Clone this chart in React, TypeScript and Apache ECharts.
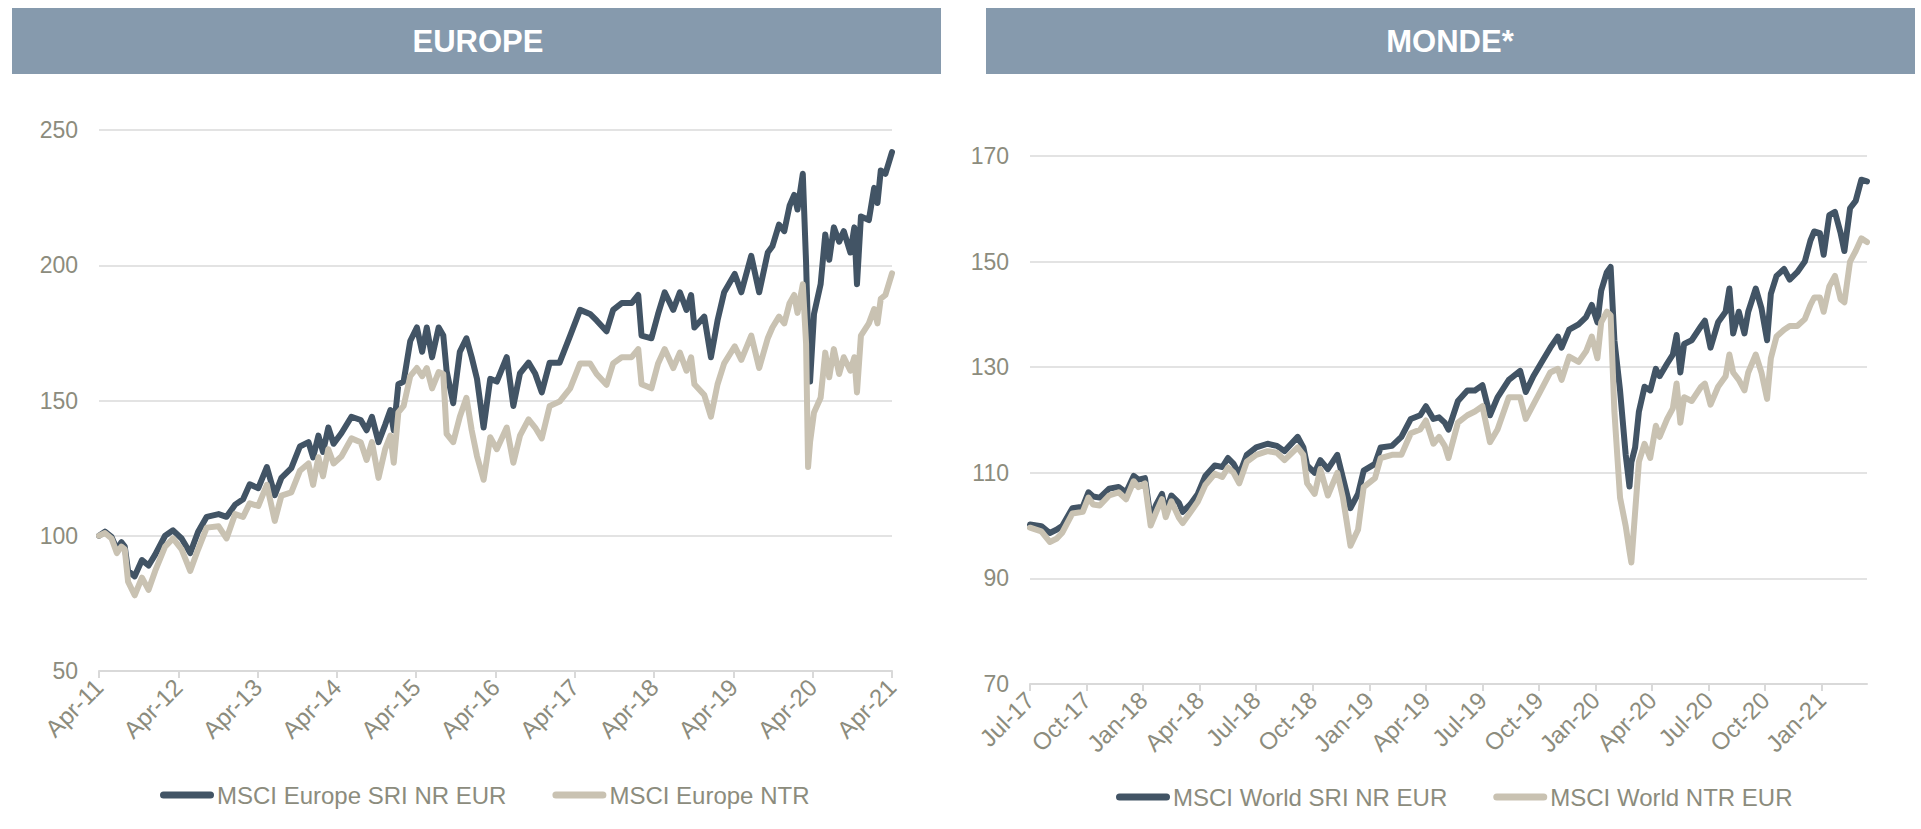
import React, { useEffect, useRef } from "react";
import * as echarts from "echarts";

// ---------- DATA ----------
// Europe: x = months since Apr-2011
const euroMonths = [0, 0.9, 1.9, 2.7, 3.4, 3.9, 4.4, 5.4, 6.5, 7.5, 8.5, 10.0, 11.2, 12.5, 13.8, 15.0, 16.3, 18.1, 19.3, 20.6, 21.8, 22.8, 24.1, 25.4, 26.6, 27.6, 29.1, 30.4, 31.7, 32.4, 33.2, 33.9, 34.7, 35.5, 36.7, 38.2, 39.6, 40.5, 41.3, 42.3, 43.3, 44.1, 44.6, 45.3, 46.1, 47.1, 48.1, 48.9, 49.6, 50.4, 51.4, 52.1, 52.6, 53.6, 54.6, 55.6, 56.4, 57.2, 58.2, 59.2, 60.2, 61.7, 62.7, 63.7, 65.0, 66.0, 67.0, 68.2, 69.7, 71.3, 72.8, 74.3, 75.3, 76.8, 77.8, 79.1, 80.6, 81.6, 82.1, 83.6, 84.6, 85.6, 86.9, 87.9, 88.9, 89.6, 90.1, 91.6, 92.6, 93.6, 94.6, 96.2, 97.2, 98.7, 99.9, 101.2, 101.9, 102.9, 103.7, 104.5, 105.2, 105.7, 106.5, 107.0, 107.3, 107.6, 108.2, 109.2, 109.9, 110.5, 111.2, 112.0, 112.7, 113.7, 114.3, 114.7, 115.3, 116.5, 117.3, 117.8, 118.3, 119.0, 120];
const euroSri = [100, 101.5, 99.6, 95, 97.6, 96, 87, 85, 91, 89, 93, 100, 102, 99, 93.6, 101.5, 107, 108, 107, 111.5, 113.5, 119, 117.6, 125.4, 115, 121.4, 125, 133, 134.6, 129, 137, 131, 140, 134, 138, 144, 142.8, 139, 144, 134.6, 141, 146.5, 139, 156, 157, 172, 177, 168, 177, 166, 177, 174, 161, 149, 168, 173, 166, 158, 140, 158, 157, 166, 148, 160, 164, 160, 153, 164, 164, 174, 183.5, 182, 179.6, 175.6, 183.5, 186, 186, 189, 174, 173, 182, 190, 183.5, 190, 183.5, 189, 177, 181, 166, 179.6, 190, 196.8, 190, 203.5, 190, 204.7, 207, 215, 212.6, 222, 226, 220.6, 233.8, 200.8, 174, 157, 182, 193, 211.4, 202, 214, 208.7, 212.6, 204.7, 214, 193, 218, 216.7, 228.6, 223, 235, 233.8, 241.8];
const euroNtr = [100, 101, 99, 93.6, 96, 95, 83, 78, 84.5, 80, 87, 96, 99, 95, 87, 95, 103, 103.5, 99, 108, 107, 112, 111, 118.8, 105.5, 114.8, 116, 124, 126.7, 118.8, 129, 122, 132, 126.7, 129.4, 136, 134.6, 128, 134.6, 121.4, 132, 137, 127, 145.6, 148, 159, 162, 159, 162, 154.5, 160.5, 159.8, 137.7, 134.6, 144, 151, 139, 129.4, 120.7, 136.4, 132, 140, 127, 137, 143, 140, 136, 148, 149.6, 154.5, 163.7, 163.7, 159.8, 155.8, 163.7, 166, 166, 169, 156, 154.5, 163.7, 169, 162, 167.7, 161, 166, 156, 152, 144, 156, 163.7, 170, 165, 174, 162, 173, 177, 181, 178.5, 186, 189, 182.4, 193, 171, 125.4, 134.6, 145.6, 151, 167.7, 158.6, 169, 159.8, 166, 161, 166, 153, 174, 178.5, 183.8, 178.5, 187.6, 189, 197];
const euroTickLabels = ["Apr-11", "Apr-12", "Apr-13", "Apr-14", "Apr-15", "Apr-16", "Apr-17", "Apr-18", "Apr-19", "Apr-20", "Apr-21"];

// World: x = months since Jul-2017
const worldMonths = [0, 0.6, 1.05, 1.4, 1.7, 2.25, 2.8, 3.1, 3.35, 3.7, 4.2, 4.7, 5.1, 5.5, 5.75, 6.1, 6.4, 6.7, 7.0, 7.2, 7.5, 7.9, 8.1, 8.5, 8.9, 9.3, 9.8, 10.2, 10.5, 10.8, 11.1, 11.5, 12.0, 12.6, 13.1, 13.5, 14.2, 14.5, 14.7, 15.1, 15.4, 15.8, 16.3, 16.6, 17.0, 17.4, 17.7, 18.3, 18.6, 19.2, 19.7, 20.2, 20.7, 21.0, 21.4, 21.7, 22.0, 22.2, 22.7, 23.2, 23.6, 24.0, 24.4, 24.8, 25.4, 26.0, 26.3, 26.7, 27.1, 27.6, 28.0, 28.2, 28.6, 29.1, 29.5, 29.8, 30.1, 30.3, 30.6, 30.8, 31.0, 31.3, 31.6, 31.8, 31.9, 32.1, 32.3, 32.6, 32.9, 33.2, 33.4, 33.8, 34.1, 34.3, 34.5, 34.7, 35.1, 35.6, 35.8, 36.1, 36.5, 36.9, 37.1, 37.3, 37.6, 37.9, 38.1, 38.5, 38.8, 39.1, 39.3, 39.6, 40.0, 40.3, 40.7, 41.1, 41.4, 41.6, 41.9, 42.1, 42.4, 42.7, 43.0, 43.2, 43.5, 43.8, 44.1, 44.4];
const worldSri = [100.2, 99.9, 98.6, 99.2, 99.9, 103.3, 103.6, 106.3, 105.5, 105.3, 107, 107.3, 106.3, 109.4, 108.7, 109, 101.3, 104, 106, 102.6, 105.7, 104.3, 102.6, 104, 106, 109.4, 111.4, 111.1, 112.8, 111.7, 109.7, 113.4, 114.8, 115.5, 115.1, 114.1, 116.8, 114.8, 111.4, 110, 112.4, 110.7, 113.4, 109, 103.3, 106, 110.4, 111.7, 114.8, 115.1, 116.8, 120.2, 120.9, 122.6, 120.2, 120.5, 119.5, 118.2, 123.6, 125.6, 125.6, 126.6, 120.9, 124.3, 127.6, 129.3, 125.3, 128.3, 130.7, 133.7, 135.8, 133.7, 137.1, 138.1, 139.5, 141.8, 138.5, 144.5, 148, 149, 135.1, 125.6, 113.4, 107.4, 112, 114.8, 121.6, 126.3, 125.6, 129.7, 128.3, 130.7, 132.4, 136.1, 129, 134.4, 135.1, 137.8, 138.8, 133.7, 138.5, 140.5, 144.9, 136.4, 140.5, 136.4, 140.5, 144.9, 141.2, 135.1, 143.9, 147.3, 148.6, 146.6, 148, 150, 154, 155.7, 155.4, 151.3, 158.8, 159.4, 155.4, 152, 160.1, 161.5, 165.5, 165.2];
const worldNtr = [99.6, 98.9, 96.9, 97.5, 98.6, 102.3, 102.6, 105.3, 104, 103.8, 105.7, 106.3, 105, 108.4, 107.3, 108, 100, 102.6, 105, 101.6, 104.6, 101.5, 100.5, 102.5, 104.5, 107.7, 109.8, 109.2, 111, 110, 108, 112.1, 113.4, 114.1, 113.8, 112.4, 114.8, 113.4, 108, 106, 110.7, 105.7, 110, 105.3, 96.2, 99.2, 107.3, 109, 112.8, 113.4, 113.4, 117.5, 118.2, 119.9, 115.5, 116.8, 115.1, 112.8, 119.5, 120.9, 121.6, 122.6, 115.8, 118.2, 124.3, 124.3, 120.2, 122.9, 125.6, 129, 129.7, 127.6, 132, 131, 133, 135.8, 131.7, 138.5, 140.5, 139.8, 121.6, 105.3, 99.9, 95.2, 93, 102.6, 112.1, 115.5, 112.8, 118.9, 116.8, 120.2, 122.2, 126.9, 119.5, 124.3, 123.6, 126.3, 126.9, 122.9, 126.3, 128.3, 132.4, 129, 127.6, 125.6, 129, 132.4, 129, 124, 131.7, 135.8, 137.1, 137.8, 137.8, 139.1, 141.8, 143.2, 143.2, 140.5, 145.3, 147.3, 142.9, 142.3, 150, 152, 154.4, 153.7];
const worldTickLabels = ["Jul-17", "Oct-17", "Jan-18", "Apr-18", "Jul-18", "Oct-18", "Jan-19", "Apr-19", "Jul-19", "Oct-19", "Jan-20", "Apr-20", "Jul-20", "Oct-20", "Jan-21"];

const euroNames = ["MSCI Europe SRI NR EUR", "MSCI Europe NTR"];
const worldNames = ["MSCI World SRI NR EUR", "MSCI World NTR EUR"];
const titles = ["EUROPE", "MONDE*"];

// ---------- STYLE ----------
const FONT = '"Liberation Sans", Arial, Helvetica, sans-serif';
const DARK = "#425465";
const BEIGE = "#C9C2B2";
const LABEL = "#8C8C7D";
const GRID = "#E3E3E3";
const AXIS = "#D9D9D9";
const BAR = "#869AAD";
const PILL = "path://M3.5,0 L50.5,0 A3.5,3.5 0 0 1 50.5,7 L3.5,7 A3.5,3.5 0 0 1 3.5,0 Z";

function pairs(xs: number[], ys: number[]) {
  return ys.map((v, i) => [xs[i], v]);
}

export default function App() {
  const ref = useRef<HTMLDivElement>(null);

  useEffect(() => {
    if (!ref.current) return;
    const chart = echarts.init(ref.current, null, { renderer: "svg" });

    const axisLabelBase = { color: LABEL, fontSize: 23, fontFamily: FONT };
    const worldTickValues = worldTickLabels.map((_, i) => i * 3);

    const lineSeries = (name: string, color: string, data: number[][], idx: number) => ({
      name,
      type: "line",
      xAxisIndex: idx,
      yAxisIndex: idx,
      data,
      showSymbol: false,
      symbol: "none",
      lineStyle: { color, width: 6, cap: "round", join: "round" },
      itemStyle: { color },
      emphasis: { disabled: true },
      z: 2,
    });

    const legendBase = {
      orient: "horizontal",
      icon: PILL,
      itemWidth: 54,
      itemHeight: 7,
      itemGap: 46,
      textStyle: { color: LABEL, fontSize: 24, fontFamily: FONT, padding: [0, 0, 0, -2] },
      selectedMode: false,
    };

    chart.setOption({
      animation: false,
      backgroundColor: "#ffffff",
      textStyle: { fontFamily: FONT },
      grid: [
        { left: 99, right: 1921 - 892, top: 130, bottom: 829 - 671, containLabel: false },
        { left: 1030, right: 1921 - 1867, top: 156, bottom: 829 - 684, containLabel: false },
      ],
      xAxis: [
        {
          gridIndex: 0,
          type: "value",
          min: 0,
          max: 120,
          interval: 12,
          axisLine: { show: true, lineStyle: { color: AXIS, width: 2 } },
          axisTick: { show: true, length: 7, lineStyle: { color: AXIS, width: 2 } },
          splitLine: { show: false },
          axisLabel: {
            ...axisLabelBase,
            fontSize: 24,
            rotate: 45,
            margin: 12,
            formatter: (v: number) => euroTickLabels[Math.round(v / 12)] ?? "",
          },
        },
        {
          gridIndex: 1,
          type: "value",
          min: 0,
          max: 44.4,
          interval: 3,
          axisLine: { show: true, lineStyle: { color: AXIS, width: 2 } },
          axisTick: { show: true, length: 7, lineStyle: { color: AXIS, width: 2 }, customValues: worldTickValues },
          splitLine: { show: false },
          axisLabel: {
            ...axisLabelBase,
            fontSize: 24,
            rotate: 45,
            margin: 12,
            customValues: worldTickValues,
            formatter: (v: number) => worldTickLabels[Math.round(v / 3)] ?? "",
          },
        },
      ],
      yAxis: [
        {
          gridIndex: 0,
          type: "value",
          min: 50,
          max: 250,
          interval: 50,
          axisLine: { show: false },
          axisTick: { show: false },
          splitLine: { show: true, lineStyle: { color: GRID, width: 2 } },
          axisLabel: { ...axisLabelBase, margin: 21 },
        },
        {
          gridIndex: 1,
          type: "value",
          min: 70,
          max: 170,
          interval: 20,
          axisLine: { show: false },
          axisTick: { show: false },
          splitLine: { show: true, lineStyle: { color: GRID, width: 2 } },
          axisLabel: { ...axisLabelBase, margin: 21 },
        },
      ],
      legend: [
        { ...legendBase, data: euroNames, left: 155, top: 778 },
        { ...legendBase, data: worldNames, left: 1111, top: 780 },
      ],
      series: [
        lineSeries(euroNames[0], DARK, pairs(euroMonths, euroSri), 0),
        lineSeries(euroNames[1], BEIGE, pairs(euroMonths, euroNtr), 0),
        lineSeries(worldNames[0], DARK, pairs(worldMonths, worldSri), 1),
        lineSeries(worldNames[1], BEIGE, pairs(worldMonths, worldNtr), 1),
      ],
      graphic: [
        { type: "rect", shape: { x: 12, y: 8, width: 929, height: 66 }, style: { fill: BAR }, z: 0 },
        { type: "rect", shape: { x: 986, y: 8, width: 929, height: 66 }, style: { fill: BAR }, z: 0 },
        {
          type: "text",
          x: 478,
          y: 41,
          style: { text: titles[0], fill: "#ffffff", fontSize: 31, fontWeight: "bold", fontFamily: FONT, align: "center", verticalAlign: "middle" },
          z: 1,
        },
        {
          type: "text",
          x: 1450,
          y: 41,
          style: { text: titles[1], fill: "#ffffff", fontSize: 31, fontWeight: "bold", fontFamily: FONT, align: "center", verticalAlign: "middle" },
          z: 1,
        },
      ],
    });

    return () => chart.dispose();
  }, []);

  return (
    <div
      ref={ref}
      style={{ position: "fixed", left: 0, top: 0, width: 1921, height: 829, background: "#ffffff" }}
    />
  );
}
